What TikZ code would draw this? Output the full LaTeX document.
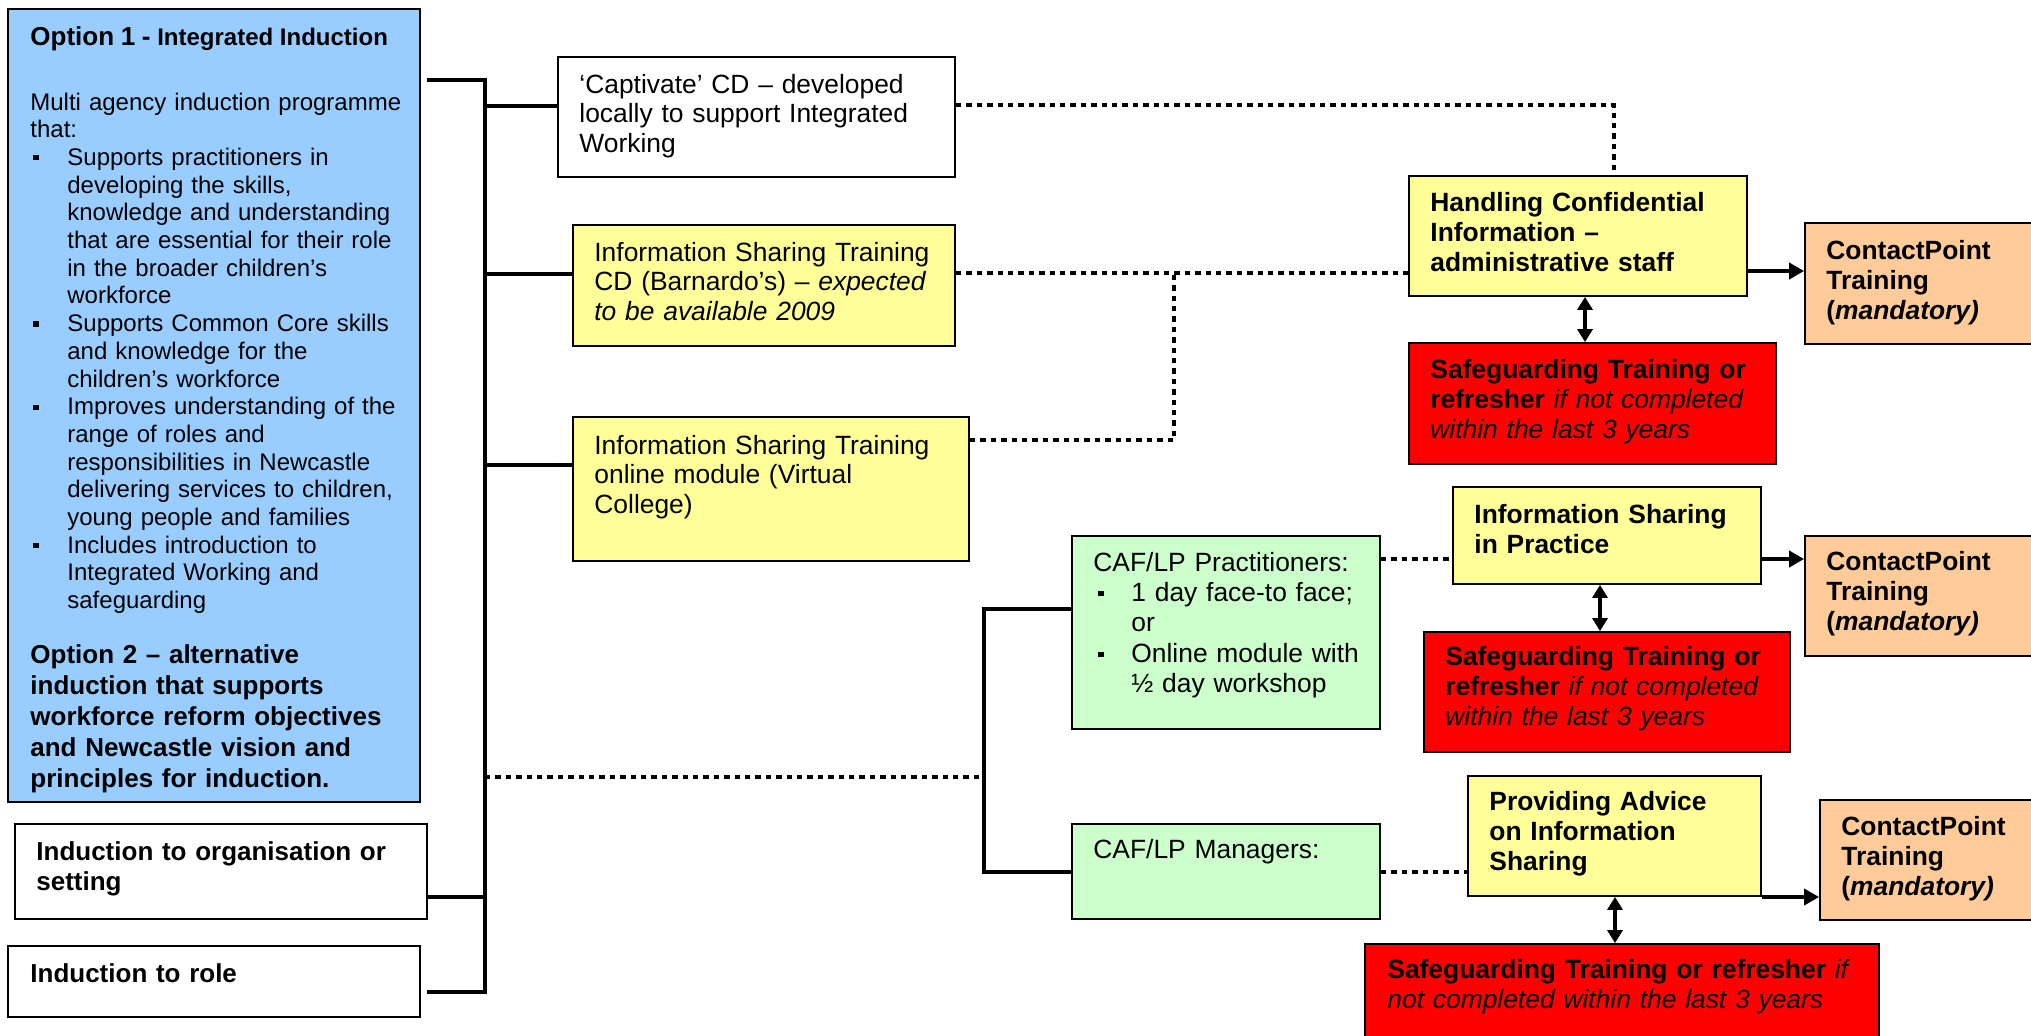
\documentclass[tikz,border=0pt]{standalone}
\usepackage{fontspec}
\setmainfont{Liberation Sans}
\usetikzlibrary{fit,arrows.meta}
\definecolor{blueF}{HTML}{99CCFF}
\definecolor{yellowF}{HTML}{FFFF99}
\definecolor{greenF}{HTML}{CCFFCC}
\definecolor{peachF}{HTML}{FFCC99}
\definecolor{redF}{HTML}{FF0000}
\newcommand{\sqbul}{\makebox[18.5pt][l]{\hspace{1.5pt}\raisebox{2.5pt}{\rule{2.6pt}{2.6pt}}}}
\newcommand{\sqind}{\hspace*{18.5pt}}
\newcommand{\pqbul}{\makebox[19pt][l]{\hspace{2.5pt}\raisebox{2.5pt}{\rule{2.6pt}{2.6pt}}}}
\newcommand{\pqind}{\hspace*{19pt}}
\begin{document}
\begin{tikzpicture}[x=0.5pt,y=-0.5pt,
  box/.style={draw=black,line width=0.9pt,inner sep=0pt},
  txt/.style={anchor=base west,inner sep=0pt,align=left,text width=320pt},
  rtx/.style={txt,font=\fontsize{13.2}{15.2}\selectfont},
  ltx/.style={txt,font=\fontsize{13.2}{14.8}\selectfont},
  thk/.style={line width=2.1pt,line join=miter},
  dotl/.style={line width=2.3pt,dash pattern=on 2.7pt off 2.5pt},
  arrline/.style={line width=2.3pt,-{Triangle[length=7.5pt,width=8pt]}},
  dblarr/.style={line width=2.1pt,{Triangle[length=6.5pt,width=7.5pt]}-{Triangle[length=6.5pt,width=7.5pt]}}]
\useasboundingbox (0,0) rectangle (2031,1035);
\clip (0,0) rectangle (2031,1035);
\fill[white] (0,0) rectangle (2031,1035);

% ---- boxes ----
\node[box,fill=blueF,fit={(8,9) (420,802)}] (blue) {};
\node[box,fill=white,fit={(15,824) (427,919)}] (org) {};
\node[box,fill=white,fit={(8,946) (420,1017)}] (role) {};
\node[box,fill=white,fit={(558,57) (955,177)}] (cap) {};
\node[box,fill=yellowF,fit={(573,225) (955,346)}] (cd) {};
\node[box,fill=yellowF,fit={(573,417) (969,561)}] (onl) {};
\node[box,fill=greenF,fit={(1072,536) (1380,729)}] (prac) {};
\node[box,fill=greenF,fit={(1072,824) (1380,919)}] (mgr) {};
\node[box,fill=yellowF,fit={(1409,176) (1747,296)}] (hand) {};
\node[box,fill=redF,fit={(1409,343) (1776,464)}] (red1) {};
\node[box,fill=peachF,fit={(1805,223) (2060,344)}] (cp1) {};
\node[box,fill=yellowF,fit={(1453,487) (1761,584)}] (isp) {};
\node[box,fill=redF,fit={(1424,632) (1790,752)}] (red2) {};
\node[box,fill=peachF,fit={(1805,536) (2060,656)}] (cp2) {};
\node[box,fill=yellowF,fit={(1468,776) (1761,896)}] (pa) {};
\node[box,fill=peachF,fit={(1820,800) (2060,920)}] (cp3) {};
\node[box,fill=redF,fit={(1365,944) (1879,1060)}] (red3) {};

% ---- texts ----
\node[txt] (tb1) at (30,45) {{\fontsize{13}{15}\selectfont\bfseries Option 1 - }{\fontsize{12}{14}\selectfont\bfseries Integrated Induction}};
\node[txt,font=\fontsize{12}{13.85}\selectfont] (tb2) at (30,110) {Multi agency induction programme\\
that:\\
\sqbul Supports practitioners in\\
\sqind developing the skills,\\
\sqind knowledge and understanding\\
\sqind that are essential for their role\\
\sqind in the broader children’s\\
\sqind workforce\\
\sqbul Supports Common Core skills\\
\sqind and knowledge for the\\
\sqind children’s workforce\\
\sqbul Improves understanding of the\\
\sqind range of roles and\\
\sqind responsibilities in Newcastle\\
\sqind delivering services to children,\\
\sqind young people and families\\
\sqbul Includes introduction to\\
\sqind Integrated Working and\\
\sqind safeguarding};
\node[txt,font=\fontsize{13}{15.5}\selectfont\bfseries] (tb3) at (30,663) {Option 2 – alternative\\
induction that supports\\
workforce reform objectives\\
and Newcastle vision and\\
principles for induction.};
\node[txt,font=\fontsize{13}{15}\selectfont\bfseries] (torg) at (36,860) {Induction to organisation or\\setting};
\node[txt,font=\fontsize{13}{15}\selectfont\bfseries] (trole) at (30,982) {Induction to role};

\node[ltx] (tcap) at (579,93) {‘Captivate’ CD – developed\\locally to support Integrated\\Working};
\node[ltx] (tcd) at (594,261) {Information Sharing Training\\CD (Barnardo’s) – \textit{expected}\\\textit{to be available 2009}};
\node[ltx] (tonl) at (594,454) {Information Sharing Training\\online module (Virtual\\College)};
\node[rtx] (tprac) at (1093,571) {CAF/LP Practitioners:\\
\pqbul 1 day face-to face;\\
\pqind or\\
\pqbul Online module with\\
\pqind ½ day workshop};
\node[rtx] (tmgr) at (1093,858) {CAF/LP Managers:};

\node[rtx,font=\fontsize{13.2}{15.2}\selectfont\bfseries] (thand) at (1430,211) {Handling Confidential\\Information –\\administrative staff};
\node[rtx] (tred1) at (1430,378) {\textbf{Safeguarding Training or}\\\textbf{refresher} \textit{if not completed}\\\textit{within the last 3 years}};
\node[rtx,font=\fontsize{13.2}{15.2}\selectfont\bfseries] (tcp1) at (1826,259) {ContactPoint\\Training\\(\textit{mandatory)}};
\node[rtx,font=\fontsize{13.2}{15.2}\selectfont\bfseries] (tisp) at (1474,523) {Information Sharing\\in Practice};
\node[rtx] (tred2) at (1445,665) {\textbf{Safeguarding Training or}\\\textbf{refresher} \textit{if not completed}\\\textit{within the last 3 years}};
\node[rtx,font=\fontsize{13.2}{15.2}\selectfont\bfseries] (tcp2) at (1826,570) {ContactPoint\\Training\\(\textit{mandatory)}};
\node[rtx,font=\fontsize{13.2}{15.2}\selectfont\bfseries] (tpa) at (1489,810) {Providing Advice\\on Information\\Sharing};
\node[rtx,font=\fontsize{13.2}{15.2}\selectfont\bfseries] (tcp3) at (1841,835) {ContactPoint\\Training\\(\textit{mandatory)}};
\node[rtx] (tred3) at (1387,978) {\textbf{Safeguarding Training or refresher} \textit{if}\\\textit{not completed within the last 3 years}};

% ---- junction coordinates ----
\coordinate (bts) at (427,80);
\coordinate (bt) at (485,80);
\coordinate (bb) at (485,992);
\coordinate (bbs) at (427,992);
\coordinate (jo) at (485,897);
\coordinate (jc) at (485,106);
\coordinate (jd) at (485,274);
\coordinate (jn) at (485,465);
\coordinate (jm) at (485,777);
\coordinate (k) at (984,777);
\coordinate (kt) at (984,609);
\coordinate (kb) at (984,872);
\coordinate (dc) at (1614,105);
\coordinate (j1) at (1174,273);
\coordinate (j2) at (1174,440);
\coordinate (yp) at (0,559);
\coordinate (ym) at (0,872);
\coordinate (ya) at (0,271);
\coordinate (yb) at (0,559);
\coordinate (yc) at (0,897);
\coordinate (xa) at (1585,0);
\coordinate (xb) at (1600,0);
\coordinate (xc) at (1615,0);

% ---- solid connectors ----
\draw[thk] (bts) -- (bt) -- (bb) -- (bbs);
\draw[thk] (jo) -- (jo -| org.east);
\draw[thk] (jc) -- (jc -| cap.west);
\draw[thk] (jd) -- (jd -| cd.west);
\draw[thk] (jn) -- (jn -| onl.west);
\draw[thk] (kt -| prac.west) -- (kt) -- (kb) -- (kb -| mgr.west);

% ---- dotted connectors ----
\draw[dotl] (jm) -- (k);
\draw[dotl] (dc -| cap.east) -- (dc) -- (dc |- hand.north);
\draw[dotl] (j1 -| cd.east) -- (j1 -| hand.west);
\draw[dotl] (j2 -| onl.east) -- (j2) -- (j1);
\draw[dotl] (yp -| prac.east) -- (yp -| isp.west);
\draw[dotl] (ym -| mgr.east) -- (ym -| pa.west);

% ---- arrows ----
\draw[arrline] (ya -| hand.east) -- (ya -| cp1.west);
\draw[arrline] (yb -| isp.east) -- (yb -| cp2.west);
\draw[arrline] (yc -| pa.east) -- (yc -| cp3.west);
\draw[dblarr] (xa |- hand.south) -- (xa |- red1.north);
\draw[dblarr] (xb |- isp.south) -- (xb |- red2.north);
\draw[dblarr] (xc |- pa.south) -- (xc |- red3.north);
\end{tikzpicture}
\end{document}
